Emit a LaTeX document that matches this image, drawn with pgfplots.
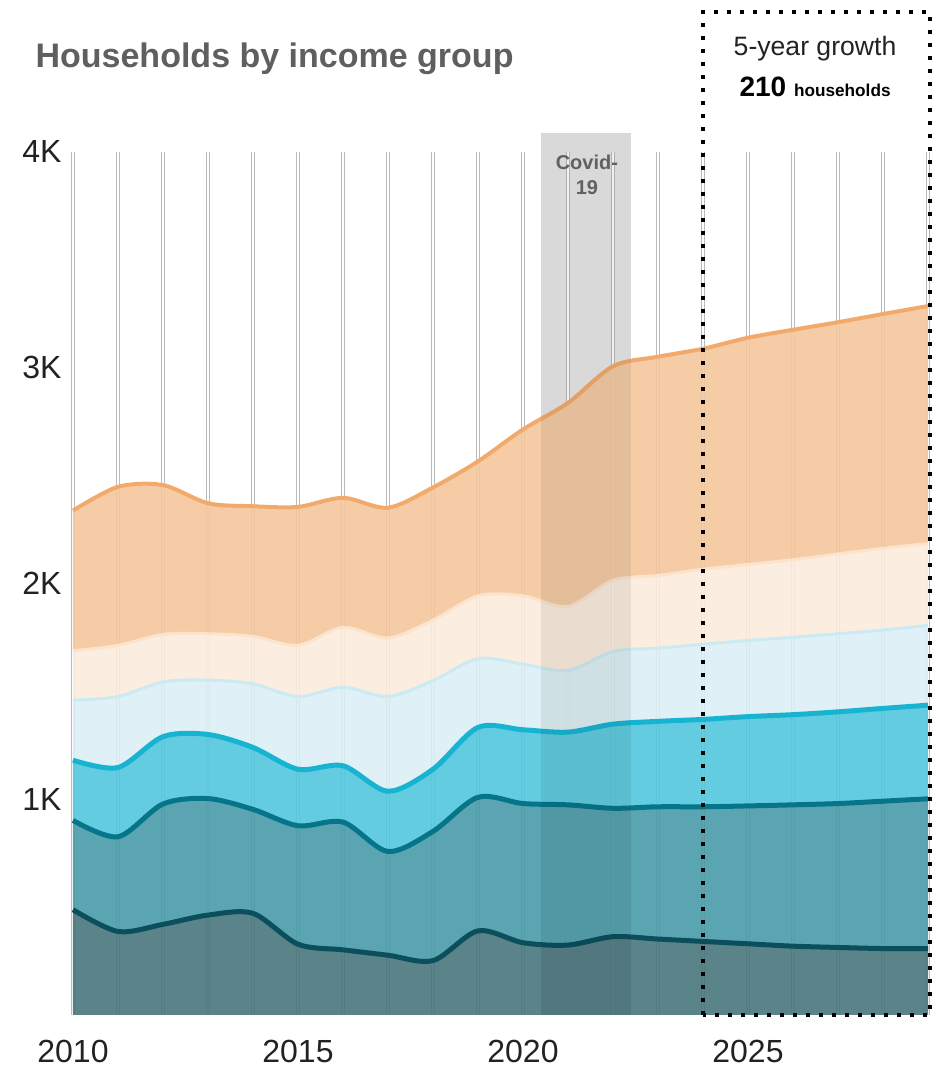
\documentclass[border=0pt]{standalone}
\usepackage{fontspec}
\setmainfont{Liberation Sans}
\usepackage{pgfplots}
\usepackage{pgfplotstable}
\pgfplotsset{compat=1.18}
\usepgfplotslibrary{fillbetween}

% cumulative totals (thousands of households), bottom group first
\pgfplotstableread{
year dark  teal  cyan  lblue cream orange
2010 0.488 0.902 1.181 1.459 1.688 2.338
2011 0.387 0.826 1.147 1.476 1.713 2.448
2012 0.420 0.978 1.290 1.544 1.764 2.456
2013 0.463 1.003 1.300 1.552 1.767 2.372
2014 0.471 0.953 1.240 1.535 1.755 2.358
2015 0.328 0.877 1.139 1.476 1.713 2.355
2016 0.302 0.894 1.155 1.519 1.797 2.397
2017 0.277 0.758 1.037 1.476 1.747 2.351
2018 0.252 0.851 1.139 1.550 1.830 2.445
2019 0.390 1.009 1.333 1.652 1.943 2.566
2020 0.335 0.980 1.322 1.626 1.943 2.714
2021 0.324 0.974 1.311 1.597 1.894 2.837
2022 0.363 0.958 1.348 1.685 2.015 3.007
2023 0.352 0.965 1.361 1.700 2.037 3.051
2024 0.341 0.965 1.370 1.718 2.066 3.088
2025 0.330 0.969 1.383 1.736 2.088 3.139
2026 0.319 0.974 1.392 1.751 2.110 3.176
2027 0.313 0.980 1.405 1.767 2.137 3.211
2028 0.308 0.991 1.421 1.784 2.163 3.249
2029 0.308 1.002 1.436 1.806 2.185 3.286
}\bounds

\definecolor{fDark}{HTML}{48757D}
\definecolor{lDark}{HTML}{0B4F5C}
\definecolor{fTeal}{HTML}{489BA9}
\definecolor{lTeal}{HTML}{06758A}
\definecolor{fCyan}{HTML}{52C7DD}
\definecolor{lCyan}{HTML}{17B4D2}
\definecolor{fLblue}{HTML}{DBEFF5}
\definecolor{lLblue}{HTML}{CBEAF2}
\definecolor{fCream}{HTML}{FBECDE}
\definecolor{lCream}{HTML}{FBE3CC}
\definecolor{fOrange}{HTML}{F5C79D}
\definecolor{lOrange}{HTML}{F2AA6C}
\definecolor{covid}{HTML}{E7E7E7}
\definecolor{titlegray}{HTML}{5F5F5F}
\definecolor{ink}{HTML}{222222}

\begin{document}
\begin{tikzpicture}
\begin{axis}[
  set layers,
  scale only axis,
  width=427.5pt, height=431.5pt,
  xmin=2010, xmax=2029, ymin=0, ymax=4,
  clip=false,
  axis line style={draw=none},
  major tick length=0pt,
  xtick={2010,2011,...,2029},
  xticklabels={2010,,,,,2015,,,,,2020,,,,,2025,,,,},
  ytick={1,2,3,4},
  yticklabels={1K,2K,3K,4K},
  xmajorgrids,
  major grid style={draw=black!27, line width=0.45pt, double=white, double distance=1.4pt},
  ticklabel style={font=\fontsize{16}{18}\selectfont, text=ink, inner sep=0pt},
  xticklabel style={anchor=north, yshift=-12.5pt},
  yticklabel style={anchor=east, xshift=-5.5pt},
  /pgf/number format/assume math mode=true,
  every axis plot/.append style={smooth},
]
% Covid-19 period, behind everything
\begin{pgfonlayer}{axis background}
\fill[covid] (axis cs:2020.4,0) rectangle (axis cs:2022.4,4.088);
\end{pgfonlayer}

\addplot[name path=L0, draw=none] coordinates {(2010,0) (2029,0)};
\addplot[name path=L1, draw=lDark, line width=2.5pt] table[x=year, y=dark] {\bounds};
\addplot[name path=L2, draw=lTeal, line width=2.5pt] table[x=year, y=teal] {\bounds};
\addplot[name path=L3, draw=lCyan, line width=2.5pt] table[x=year, y=cyan] {\bounds};
\addplot[name path=L4, draw=lLblue, line width=1.5pt] table[x=year, y=lblue] {\bounds};
\addplot[name path=L5, draw=lCream, line width=1.5pt] table[x=year, y=cream] {\bounds};
\addplot[name path=L6, draw=lOrange, line width=2pt] table[x=year, y=orange] {\bounds};

\addplot[fill=fDark, fill opacity=0.9, draw=none] fill between[of=L1 and L0];
\addplot[fill=fTeal, fill opacity=0.9, draw=none] fill between[of=L2 and L1];
\addplot[fill=fCyan, fill opacity=0.9, draw=none] fill between[of=L3 and L2];
\addplot[fill=fLblue, fill opacity=0.9, draw=none] fill between[of=L4 and L3];
\addplot[fill=fCream, fill opacity=0.9, draw=none] fill between[of=L5 and L4];
\addplot[fill=fOrange, fill opacity=0.9, draw=none] fill between[of=L6 and L5];

% light tint of the Covid band over the areas
\fill[black, opacity=0.06] (axis cs:2020.4,0) rectangle (axis cs:2022.4,4.088);
\node[font=\bfseries\fontsize{10}{12.5}\selectfont, text=black!62, align=center]
  at (axis cs:2021.42,3.896) {Covid-\\19};

% forecast box
\draw[line width=2pt, dash pattern=on 2pt off 4.5pt, black]
  (axis cs:2024,0) -- (axis cs:2024,4.649) -- (axis cs:2029.04,4.649) -- (axis cs:2029.04,0) -- cycle;
\node[font=\fontsize{13.3}{15}\selectfont, text=ink] at (axis cs:2026.49,4.481) {5-year growth};
\node[text=black] at (axis cs:2026.49,4.301)
  {\fontsize{14}{16}\selectfont\bfseries 210 \fontsize{8.6}{10}\selectfont households};

% title
\node[anchor=west, inner sep=0pt, font=\bfseries\fontsize{17}{20}\selectfont, text=titlegray]
  at (axis cs:2009.16,4.43) {Households by income group};

% page extent
\path (axis cs:2008.378,4.7045) (axis cs:2029.178,-0.2457);
\end{axis}
\end{tikzpicture}
\end{document}
